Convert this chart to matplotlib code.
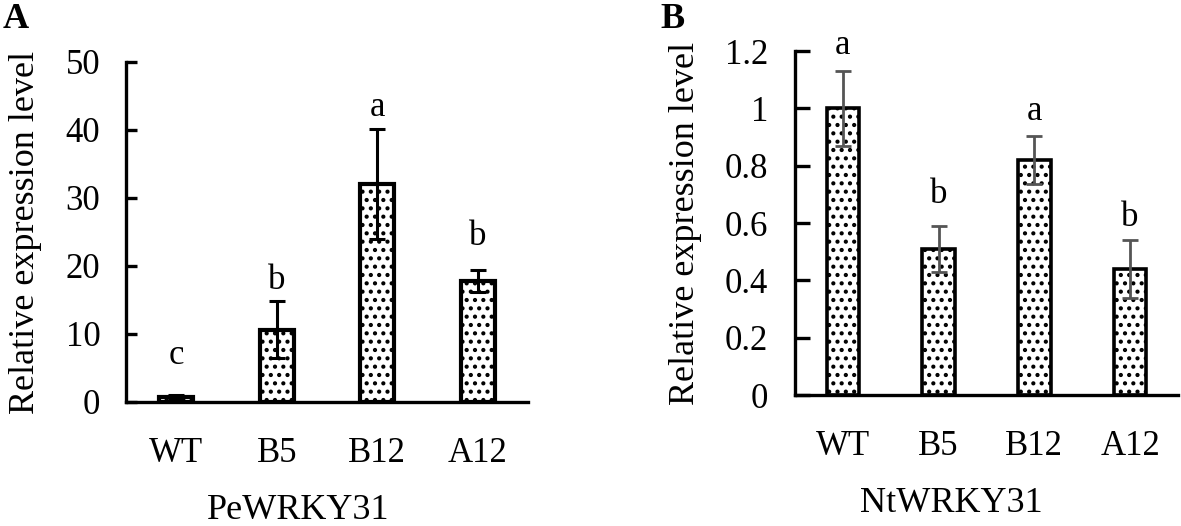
#!/usr/bin/env python3
"""Relative expression of PeWRKY31 / NtWRKY31 in WT and transgenic lines."""

import matplotlib
matplotlib.use("Agg")
import matplotlib.pyplot as plt
import numpy as np

plt.rcParams["font.family"] = ["Liberation Serif", "DejaVu Serif"]
plt.rcParams["hatch.linewidth"] = 1.8

# ── data ─────────────────────────────────────────────────────────────────────
lines = ["WT", "B5", "B12", "A12"]

pe_mean = [0.8, 10.6, 32.1, 17.8]
pe_err = [0.25, 4.2, 8.1, 1.6]
pe_letters = ["c", "b", "a", "b"]
pe_letter_y = [6.9, 17.8, 43.3, 24.4]
pe_ticks = [0, 10, 20, 30, 40, 50]

nt_mean = [1.0, 0.51, 0.82, 0.44]
nt_err = [0.13, 0.08, 0.083, 0.10]
nt_letters = ["a", "b", "a", "b"]
nt_letter_y = [1.22, 0.70, 0.99, 0.62]
nt_ticks = [0, 0.2, 0.4, 0.6, 0.8, 1.0, 1.2]
nt_ticklabels = ["0", "0.2", "0.4", "0.6", "0.8", "1", "1.2"]

W, H = 1181, 526
fig = plt.figure(figsize=(W / 100, H / 100), dpi=100)


def px_axes(left, right, bottom, top):
    return fig.add_axes([left / W, 1 - bottom / H, (right - left) / W, (bottom - top) / H])


def style(ax, ticklen, ypad):
    x = np.arange(len(lines))
    ax.set_xlim(-0.5, len(lines) - 0.5)
    ax.set_xticks(x)
    ax.set_xticklabels(lines)
    ax.spines[["top", "right"]].set_visible(False)
    for s in ("left", "bottom"):
        ax.spines[s].set_linewidth(2.4)
    ax.tick_params(axis="y", direction="in", length=ticklen, width=2.4,
                   labelsize=25, pad=ypad)
    ax.tick_params(axis="x", length=0, labelsize=25, pad=25)


# ── Panel A ──────────────────────────────────────────────────────────────────
ax1 = px_axes(126, 528, 402, 62)
x = np.arange(len(lines))
ax1.bar(x, pe_mean, width=0.34, color="white", edgecolor="black",
        linewidth=3.0, hatch="..", zorder=2)
ax1.errorbar(x, pe_mean, yerr=pe_err, fmt="none", ecolor="black",
             elinewidth=2.2, capsize=6, capthick=2.2, zorder=3)
ax1.set_ylim(0, 50)
ax1.set_yticks(pe_ticks)
style(ax1, 8, 18.5)
for xi, t, ty in zip(x, pe_letters, pe_letter_y):
    ax1.text(xi, ty, t, ha="center", va="center", fontsize=25)
ax1.text(-0.251, 0.5, "Relative expression level", transform=ax1.transAxes,
         rotation=90, ha="center", va="center", fontsize=26)
ax1.text(0.428, -0.318, "PeWRKY31", transform=ax1.transAxes,
         ha="center", va="center", fontsize=26)

# ── Panel B ──────────────────────────────────────────────────────────────────
ax2 = px_axes(795, 1178, 395, 51)
ax2.bar(x, nt_mean, width=0.34, color="white", edgecolor="black",
        linewidth=2.6, hatch="..", zorder=2)
ax2.errorbar(x, nt_mean, yerr=nt_err, fmt="none", ecolor="#555555",
             elinewidth=2.0, capsize=6, capthick=2.0, zorder=3)
ax2.set_ylim(0, 1.2)
ax2.set_yticks(nt_ticks)
ax2.set_yticklabels(nt_ticklabels)
style(ax2, 10.5, 19.5)
for xi, t, ty in zip(x, nt_letters, nt_letter_y):
    ax2.text(xi, ty, t, ha="center", va="center", fontsize=25)
ax2.text(-0.287, 0.5, "Relative expression level", transform=ax2.transAxes,
         rotation=90, ha="center", va="center", fontsize=26)
ax2.text(0.407, -0.314, "NtWRKY31", transform=ax2.transAxes,
         ha="center", va="center", fontsize=26)

# panel letters
fig.text(3 / W, 1 - 28 / H, "A", fontsize=26, fontweight="bold", va="baseline")
fig.text(660 / W, 1 - 28 / H, "B", fontsize=26, fontweight="bold", va="baseline")

fig.savefig("out.png", dpi=100)
plt.close()
print("Saved: out.png")
